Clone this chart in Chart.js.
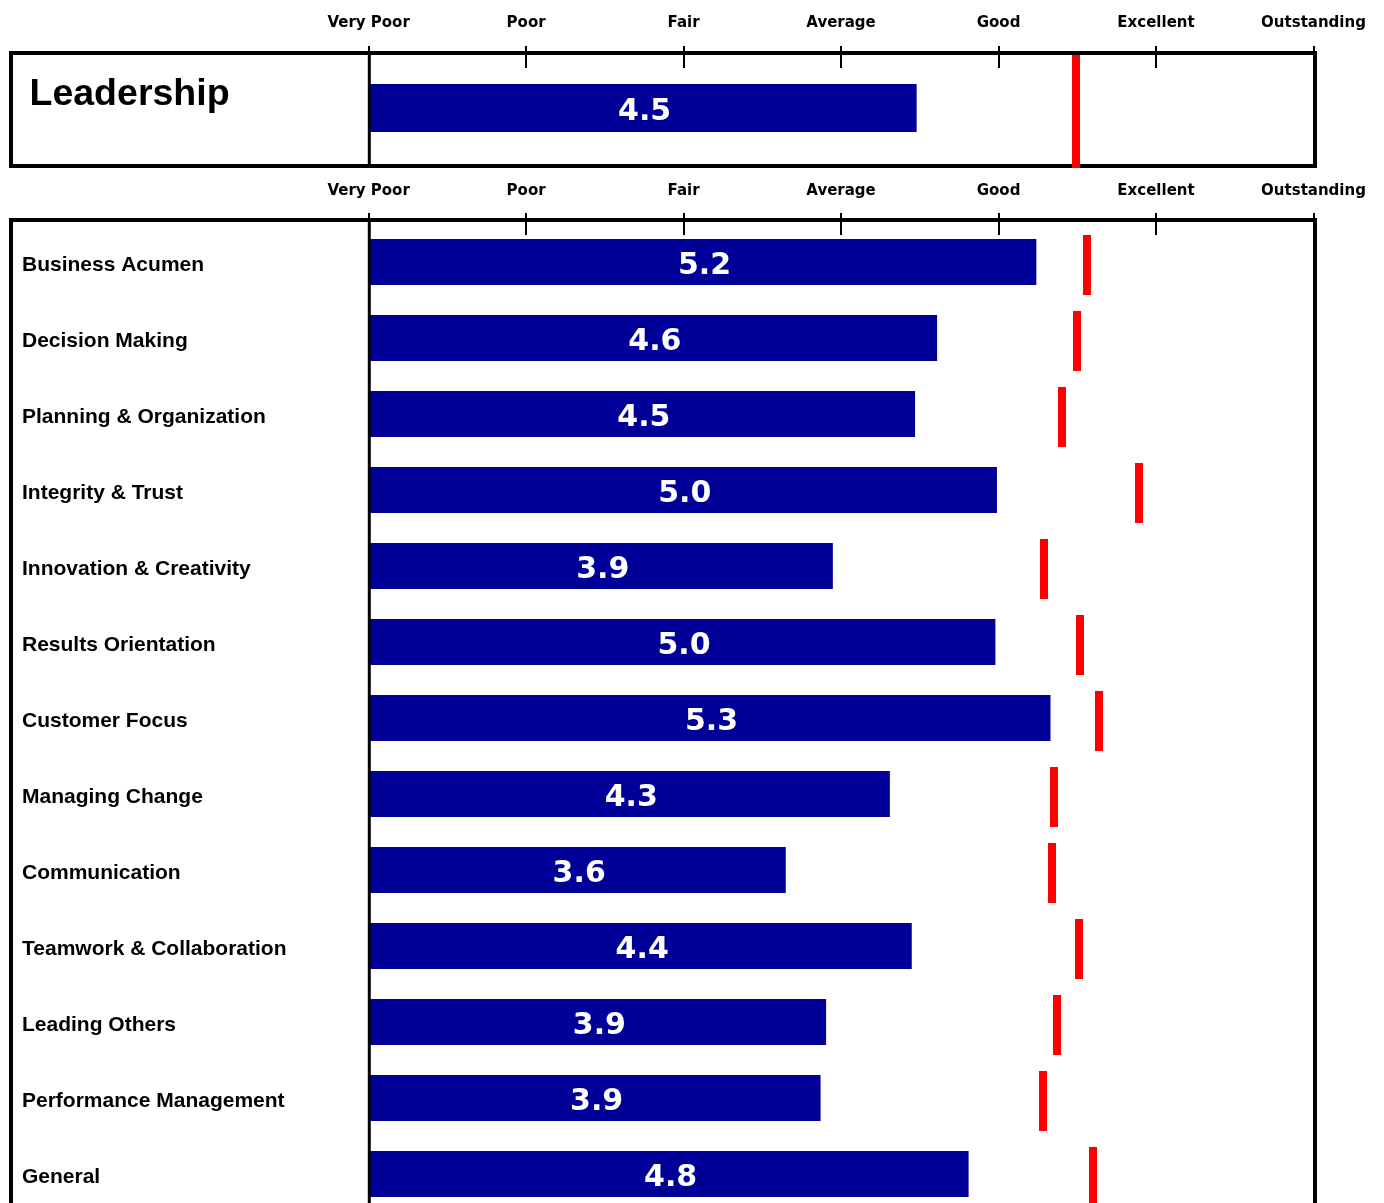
<!DOCTYPE html>
<html>
<head>
<meta charset="utf-8">
<script src="https://cdn.jsdelivr.net/npm/chart.js@4.4.1/dist/chart.umd.min.js"></script>
<style>
html, body { margin: 0; padding: 0; background: #fff; width: 1384px; height: 1203px; overflow: hidden; }
#wrap { position: relative; width: 1384px; height: 1203px; overflow: hidden; background: #fff; }
#c1 { position: absolute; left: 0; top: 0; }
#c2 { position: absolute; left: 0; top: 170px; }
</style>
</head>
<body>
<div id="wrap">
  <canvas id="c1" width="1384" height="172"></canvas>
  <canvas id="c2" width="1384" height="1060"></canvas>
</div>
<script>
// ---- Data ----
const scaleLabels = ['Very Poor', 'Poor', 'Fair', 'Average', 'Good', 'Excellent', 'Outstanding'];
const summaryLabel = ['Leadership'];
const summaryScore = [4.48];
const summaryNorm = [5.49];

const competencies = [
  'Business Acumen', 'Decision Making', 'Planning & Organization', 'Integrity & Trust',
  'Innovation & Creativity', 'Results Orientation', 'Customer Focus', 'Managing Change',
  'Communication', 'Teamwork & Collaboration', 'Leading Others', 'Performance Management', 'General'
];
const scores = [5.24, 4.61, 4.47, 4.99, 3.948, 4.98, 5.33, 4.31, 3.649, 4.449, 3.905, 3.87, 4.81];
const norms  = [5.56, 5.50, 5.40, 5.89, 5.29, 5.52, 5.64, 5.35, 5.34, 5.51, 5.37, 5.28, 5.60];

// ---- Styles ----
const BAR_COLOR = '#000099';
const NORM_COLOR = '#ff0000';
const ARIAL = '"Liberation Sans", Arial, sans-serif';
const WIDE = '"DejaVu Sans", Verdana, sans-serif';

function makeMarker(w, h, padTop) {
  const c = document.createElement('canvas');
  c.width = w; c.height = h;
  const g = c.getContext('2d');
  g.fillStyle = NORM_COLOR;
  g.fillRect(0, padTop, w, h - padTop);
  return c;
}
const markerTall = makeMarker(8, 120, 7);
const markerShort = makeMarker(8, 66, 6);

const panelPlugin = {
  id: 'panel',
  beforeDatasetsDraw(chart, args, opts) {
    const ctx = chart.ctx;
    const xs = chart.scales.x;
    ctx.save();
    ctx.strokeStyle = '#000';
    ctx.lineWidth = 4;
    ctx.strokeRect(opts.left, opts.top, opts.right - opts.left, opts.bottom - opts.top);
    ctx.lineWidth = 2;
    xs.ticks.forEach((t, i) => {
      const x = Math.round(xs.getPixelForTick(i));
      ctx.beginPath();
      ctx.moveTo(x, opts.top - 7);
      ctx.lineTo(x, opts.top + 15);
      ctx.stroke();
    });
    if (opts.title) {
      ctx.fillStyle = '#000';
      ctx.font = 'bold 37.5px ' + ARIAL;
      ctx.textAlign = 'left';
      ctx.textBaseline = 'alphabetic';
      ctx.fillText(opts.title, 29.5, 105);
    }
    ctx.restore();
  },
  afterDatasetsDraw(chart, args, opts) {
    const ctx = chart.ctx;
    const xs = chart.scales.x;
    const base = xs.getPixelForValue(xs.min);
    ctx.save();
    // left axis line of the plot area
    ctx.strokeStyle = '#000';
    ctx.lineWidth = 3;
    ctx.beginPath();
    ctx.moveTo(base + 0.7, opts.top);
    ctx.lineTo(base + 0.7, opts.bottom);
    ctx.stroke();
    // value labels inside bars
    const meta = chart.getDatasetMeta(0);
    const vals = chart.data.datasets[0].data;
    ctx.fillStyle = '#fff';
    ctx.font = 'bold 30px ' + WIDE;
    ctx.textAlign = 'center';
    ctx.textBaseline = 'middle';
    meta.data.forEach((bar, i) => {
      ctx.fillText(vals[i].toFixed(1), (bar.x + base) / 2 + 2, bar.y + 4);
    });
    ctx.restore();
  }
};

function xScale(pad, height) {
  return {
    type: 'linear',
    position: 'top',
    min: 1,
    max: 7,
    ticks: {
      stepSize: 1,
      padding: pad,
      color: '#000',
      font: { family: WIDE, size: 15, weight: 'bold', lineHeight: 2.4 },
      callback: v => scaleLabels[Math.round(v) - 1]
    },
    grid: { display: false, drawTicks: false },
    border: { display: false },
    afterFit: s => { s.height = height; }
  };
}

// ---- Top summary chart ----
new Chart(document.getElementById('c1'), {
  type: 'bar',
  data: {
    labels: summaryLabel,
    datasets: [
      {
        type: 'bar',
        data: summaryScore,
        backgroundColor: BAR_COLOR,
        borderWidth: 0,
        categoryPercentage: 1,
        barPercentage: 48 / 112
      },
      {
        type: 'line',
        data: summaryNorm,
        showLine: false,
        pointStyle: markerTall,
        pointRadius: 4,
        borderColor: NORM_COLOR,
        backgroundColor: NORM_COLOR,
        clip: false
      }
    ]
  },
  options: {
    indexAxis: 'y',
    responsive: false,
    animation: false,
    events: [],
    layout: { padding: { left: 368.6, right: 70.5, top: 0, bottom: 8 } },
    plugins: {
      legend: { display: false },
      tooltip: { enabled: false },
      panel: { left: 11, right: 1315, top: 53, bottom: 166, title: summaryLabel[0] }
    },
    scales: {
      x: xScale(11, 52),
      y: { type: 'category', offset: true, display: false }
    }
  },
  plugins: [panelPlugin]
});

// ---- Competency chart ----
new Chart(document.getElementById('c2'), {
  type: 'bar',
  data: {
    labels: competencies,
    datasets: [
      {
        type: 'bar',
        data: scores,
        backgroundColor: BAR_COLOR,
        borderWidth: 0,
        categoryPercentage: 1,
        barPercentage: 46 / 76
      },
      {
        type: 'line',
        data: norms,
        showLine: false,
        pointStyle: markerShort,
        pointRadius: 4,
        borderColor: NORM_COLOR,
        backgroundColor: NORM_COLOR,
        clip: false
      }
    ]
  },
  options: {
    indexAxis: 'y',
    responsive: false,
    animation: false,
    events: [],
    layout: { padding: { left: 22, right: 70.5, top: 0, bottom: 18 } },
    plugins: {
      legend: { display: false },
      tooltip: { enabled: false },
      panel: { left: 11, right: 1315, top: 50, bottom: 1100 }
    },
    scales: {
      x: xScale(15, 54),
      y: {
        type: 'category',
        offset: true,
        ticks: {
          crossAlign: 'far',
          labelOffset: 3,
          padding: 0,
          autoSkip: false,
          color: '#000',
          font: { family: ARIAL, size: 21, weight: 'bold' }
        },
        grid: { display: false, drawTicks: false },
        border: { display: false },
        afterFit: s => { s.width = 346.6; }
      }
    }
  },
  plugins: [panelPlugin]
});
</script>
</body>
</html>
